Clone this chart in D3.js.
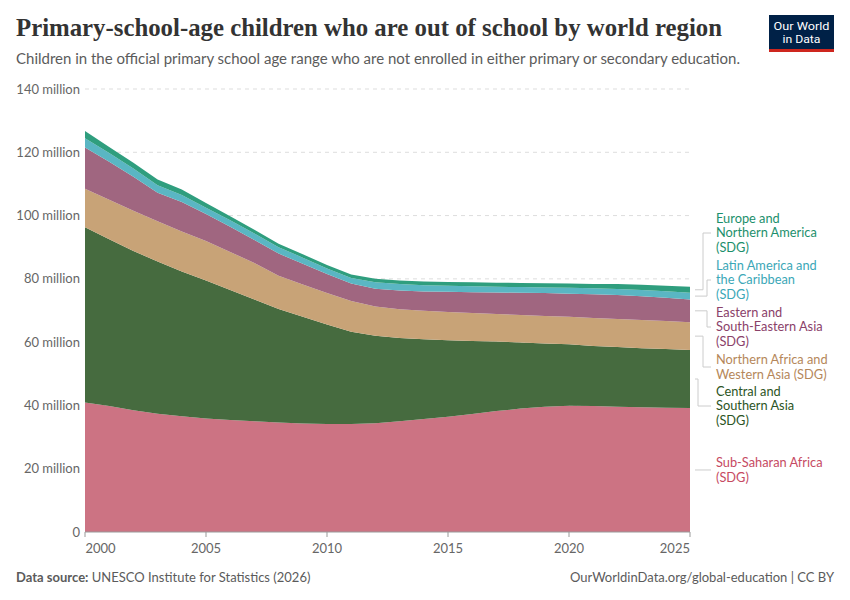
<!DOCTYPE html>
<html>
<head>
<meta charset="utf-8">
<script src="https://cdn.jsdelivr.net/npm/d3@7/dist/d3.min.js"></script>
<style>
  body { margin: 0; background: #fff; }
  svg { display: block; font-family: Lato, "Noto Sans", sans-serif; }
</style>
</head>
<body>
<svg id="chart" width="850" height="600"></svg>
<script>
const years = [2000,2001,2002,2003,2004,2005,2006,2007,2008,2009,2010,2011,2012,2013,2014,2015,2016,2017,2018,2019,2020,2021,2022,2023,2024,2025];

// values in millions
const subSaharanAfrica = [40.9,39.8,38.5,37.4,36.6,35.9,35.4,35.0,34.6,34.3,34.1,34.1,34.4,35.0,35.7,36.4,37.3,38.2,39.0,39.6,39.9,39.8,39.6,39.4,39.3,39.2];
const centralSouthernAsia = [55.4,52.7,50.3,48.1,45.7,43.6,41.1,38.5,35.9,33.7,31.5,29.2,27.6,26.3,25.2,24.2,23.1,22.0,20.9,20.0,19.4,19.0,18.9,18.7,18.5,18.3];
const northernAfricaWesternAsia = [12.2,12.5,12.7,12.7,12.7,12.5,12.0,11.5,10.5,10.2,9.9,9.7,9.3,9.1,9.0,8.9,8.8,8.7,8.7,8.7,8.7,8.8,8.8,8.9,8.9,8.8];
const easternSouthEasternAsia = [13.0,12.0,10.8,9.0,9.3,8.5,8.0,7.3,7.0,6.6,6.0,5.5,5.6,5.9,6.1,6.4,6.6,6.8,7.0,7.2,7.3,7.5,7.6,7.5,7.3,7.2];
const latinAmericaCaribbean = [2.9,2.8,2.6,2.4,2.2,2.0,2.0,2.0,2.0,1.9,1.8,1.8,2.0,2.1,2.0,1.9,1.9,1.8,1.8,1.8,1.9,1.9,1.9,2.0,2.1,2.1];
const europeNorthernAmerica = [2.3,1.9,1.8,1.8,1.7,1.5,1.3,1.2,1.1,1.1,1.1,1.1,1.1,1.1,1.2,1.2,1.2,1.3,1.3,1.3,1.3,1.4,1.6,1.6,1.7,1.9];

const seriesKeys = ["ssa","csa","nawa","esea","lac","ena"];
const seriesValues = [subSaharanAfrica, centralSouthernAsia, northernAfricaWesternAsia, easternSouthEasternAsia, latinAmericaCaribbean, europeNorthernAmerica];
const seriesLabels = [
  ["Sub-Saharan Africa","(SDG)"],
  ["Central and","Southern Asia","(SDG)"],
  ["Northern Africa and","Western Asia (SDG)"],
  ["Eastern and","South-Eastern Asia","(SDG)"],
  ["Latin America and","the Caribbean","(SDG)"],
  ["Europe and","Northern America","(SDG)"]
];
const fillColors = ["#cc7383","#466b3f","#c8a377","#a06680","#5ab6c3","#2f9e7e"];
const textColors = ["#c64a62","#2c5424","#b5875a","#8a4169","#3ba7b7","#1c8f6c"];

const yTicks = [0,20,40,60,80,100,120,140];
const xTicks = [2000,2005,2010,2015,2020,2025];

const title = "Primary-school-age children who are out of school by world region";
const subtitle = "Children in the official primary school age range who are not enrolled in either primary or secondary education.";
const sourceLabel = "Data source:";
const sourceText = " UNESCO Institute for Statistics (2026)";
const creditText = "OurWorldinData.org/global-education | CC BY";

const svg = d3.select("#chart");

const table = years.map((yr, i) => {
  const row = { year: yr };
  seriesKeys.forEach((k, j) => row[k] = seriesValues[j][i]);
  return row;
});

const x = d3.scaleLinear().domain([2000, 2025]).range([85, 690]);
const y = d3.scaleLinear().domain([0, 140]).range([532, 89]);

// Title & subtitle
svg.append("text").attr("x", 16).attr("y", 36)
  .attr("font-family", "'Liberation Serif', 'DejaVu Serif', serif")
  .attr("font-weight", "bold").attr("font-size", 25).attr("fill", "#333")
  .attr("textLength", 706).attr("lengthAdjust", "spacingAndGlyphs")
  .text(title);
svg.append("text").attr("x", 16).attr("y", 64)
  .attr("font-size", 14.5).attr("fill", "#5b5b5b")
  .attr("textLength", 724).attr("lengthAdjust", "spacingAndGlyphs")
  .text(subtitle);

// Logo
const logo = svg.append("g");
logo.append("rect").attr("x", 769).attr("y", 15).attr("width", 65).attr("height", 37).attr("fill", "#002147");
logo.append("rect").attr("x", 769).attr("y", 49).attr("width", 65).attr("height", 3).attr("fill", "#ce261e");
logo.append("text").attr("x", 801.5).attr("y", 30).attr("text-anchor", "middle")
  .attr("font-size", 11.5).attr("fill", "#fff").attr("font-family", "'Roboto', Lato, sans-serif")
  .attr("textLength", 56).attr("lengthAdjust", "spacingAndGlyphs").text("Our World");
logo.append("text").attr("x", 801.5).attr("y", 43).attr("text-anchor", "middle")
  .attr("font-size", 11.5).attr("fill", "#fff").attr("font-family", "'Roboto', Lato, sans-serif")
  .attr("textLength", 38).attr("lengthAdjust", "spacingAndGlyphs").text("in Data");

// Grid lines and y labels
const yAxis = svg.append("g");
yTicks.forEach(t => {
  if (t > 0) {
    yAxis.append("line").attr("x1", 85).attr("x2", 690).attr("y1", y(t)).attr("y2", y(t))
      .attr("stroke", "#dddddd").attr("stroke-dasharray", "4,4").attr("stroke-width", 1);
  }
  yAxis.append("text").attr("x", 80).attr("y", y(t)).attr("dy", "0.35em")
    .attr("text-anchor", "end").attr("font-size", 13).attr("fill", "#666")
    .text(t === 0 ? "0" : t + " million");
});

// Stacked areas
const stack = d3.stack().keys(seriesKeys);
const stacked = stack(table);
const area = d3.area()
  .x(d => x(d.data.year))
  .y0(d => y(d[0]))
  .y1(d => y(d[1]))
  .curve(d3.curveLinear);

svg.append("g").selectAll("path").data(stacked).join("path")
  .attr("d", area)
  .attr("fill", (d, i) => fillColors[i]);

// X axis
const xAxisG = svg.append("g").attr("transform", "translate(0,532)");
xAxisG.append("line").attr("x1", 85).attr("x2", 690).attr("y1", 0).attr("y2", 0).attr("stroke", "#999");
xTicks.forEach((t, i) => {
  xAxisG.append("line").attr("x1", x(t)).attr("x2", x(t)).attr("y1", 0).attr("y2", 5).attr("stroke", "#999");
  xAxisG.append("text").attr("x", x(t) + (i === 0 ? 0.5 : 0)).attr("y", 21)
    .attr("text-anchor", i === 0 ? "start" : (i === xTicks.length - 1 ? "end" : "middle"))
    .attr("font-size", 13).attr("fill", "#666").text(t);
});

// Labels with connectors
const lastIdx = years.length - 1;
const labelAnchorY = [470, 406, 367, 327, 280, 233];
const elbowX = [698, 698, 703, 707, 707, 703];
const lineH = 14.3;
const labelG = svg.append("g");
stacked.forEach((s, i) => {
  const last = s[lastIdx];
  const midY = y((last[0] + last[1]) / 2);
  const targetY = labelAnchorY[i];
  const lines = seriesLabels[i];
  if (Math.abs(midY - targetY) < 1.5) {
    labelG.append("path").attr("d", `M695,${midY}H711`).attr("fill", "none").attr("stroke", "#ccc");
  } else {
    labelG.append("path").attr("d", `M695,${midY}H${elbowX[i]}V${targetY}H711`).attr("fill", "none").attr("stroke", "#ccc");
  }
  const n = lines.length;
  const firstY = targetY - (n - 1) * lineH / 2;
  const t = labelG.append("text").attr("font-size", 12.8).attr("fill", textColors[i]);
  lines.forEach((ln, k) => {
    t.append("tspan").attr("x", 716).attr("y", firstY + k * lineH).attr("dy", "0.35em").text(ln);
  });
});

// Footer
const foot = svg.append("text").attr("x", 16).attr("y", 582).attr("font-size", 13).attr("fill", "#5b5b5b");
foot.append("tspan").attr("font-weight", "bold").text(sourceLabel);
foot.append("tspan").text(sourceText);
svg.append("text").attr("x", 834).attr("y", 582).attr("text-anchor", "end")
  .attr("font-size", 13).attr("fill", "#5b5b5b").text(creditText);
</script>
</body>
</html>
